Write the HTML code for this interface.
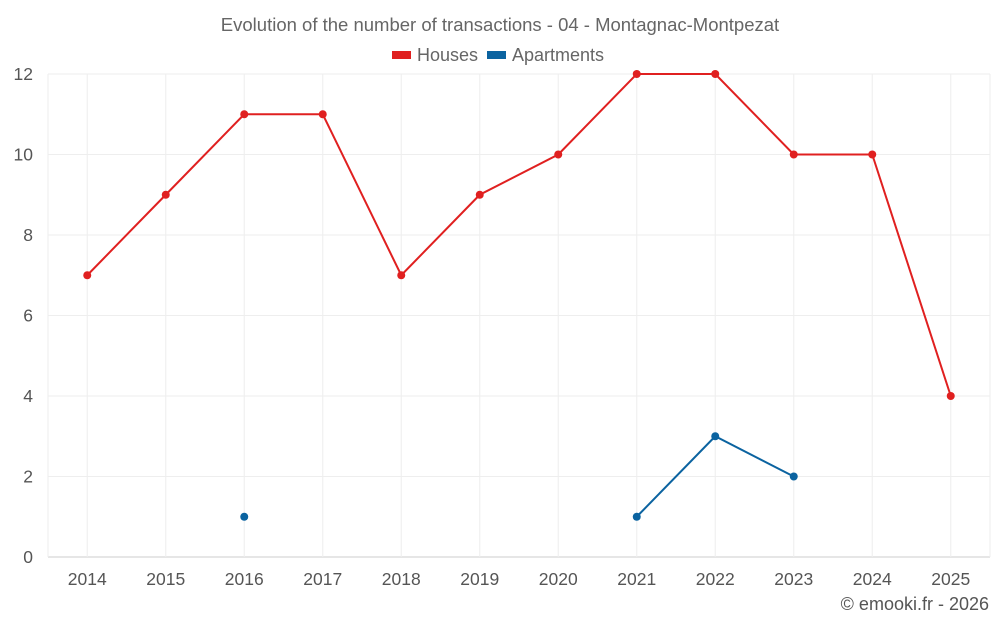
<!DOCTYPE html>
<html><head><meta charset="utf-8"><style>
body{margin:0;background:#fff;font-family:"Liberation Sans",sans-serif;}
svg text{font-family:"Liberation Sans",sans-serif;}
</style></head><body>
<svg id="c" width="1000" height="625">
<text x="500" y="31" text-anchor="middle" font-size="18.5" fill="#666">Evolution of the number of transactions - 04 - Montagnac-Montpezat</text>
<g><rect x="392" y="51" width="19" height="8" fill="#e02020"/><text x="417" y="61" font-size="18" fill="#666">Houses</text></g>
<g><rect x="487" y="51" width="19" height="8" fill="#0b63a0"/><text x="512" y="61" font-size="18" fill="#666">Apartments</text></g>
<text x="989" y="610" text-anchor="end" font-size="18" fill="#555">© emooki.fr - 2026</text>
<g id="grid"></g><g id="plot"></g>
</svg>
<script>
const years=["2014","2015","2016","2017","2018","2019","2020","2021","2022","2023","2024","2025"];
const houses=[7,9,11,11,7,9,10,12,12,10,10,4];
const apartments=[null,null,1,null,null,null,null,1,3,2,null,null];
const yTicks=[0,2,4,6,8,10,12];
const L=48,R=990,T=74,B=557,yMax=12;
const bw=(R-L)/years.length;
const x=i=>L+bw*(i+0.5);
const y=v=>B-(v/yMax)*(B-T);
const ns="http://www.w3.org/2000/svg";
const g=document.getElementById('grid'),p=document.getElementById('plot');
function mk(par,tag,a){const e=document.createElementNS(ns,tag);for(const k in a)e.setAttribute(k,a[k]);par.appendChild(e);return e;}
yTicks.forEach(t=>{
 const ln=mk(g,'line',{x1:L,x2:R,y1:y(t),y2:y(t),stroke:t===0?'#ccc':'#eee'});
 
 
 const tx=mk(g,'text',{x:33,y:y(t)+6,'text-anchor':'end','font-size':17.5,fill:'#555'});tx.textContent=t;
 
 
});
mk(g,'line',{x1:L,x2:L,y1:T,y2:B,stroke:'#eee'});
mk(g,'line',{x1:R,x2:R,y1:T,y2:B,stroke:'#eee'});
years.forEach((yr,i)=>{
 const ln=mk(g,'line',{x1:x(i),x2:x(i),y1:T,y2:B,stroke:'#eee'});
 
 
 const tx=mk(g,'text',{x:x(i),y:585,'text-anchor':'middle','font-size':17.5,fill:'#555'});tx.textContent=yr;
 
 
});
function series(data,color,name){
 let segs=[],cur=[];
 data.forEach((v,i)=>{if(v==null){if(cur.length)segs.push(cur);cur=[];}else cur.push([x(i),y(v)]);});
 if(cur.length)segs.push(cur);
 segs.forEach(s=>{if(s.length>1){const pl=mk(p,'polyline',{points:s.map(q=>q.join(',')).join(' '),fill:'none',stroke:color,'stroke-width':2});
  
  }});
 data.forEach((v,i)=>{if(v==null)return;const c=mk(p,'circle',{cx:x(i),cy:y(v),r:4,fill:color});
  
  });
}
series(houses,'#e02020','houses');
series(apartments,'#0b63a0','apartments');
</script>
</body></html>
